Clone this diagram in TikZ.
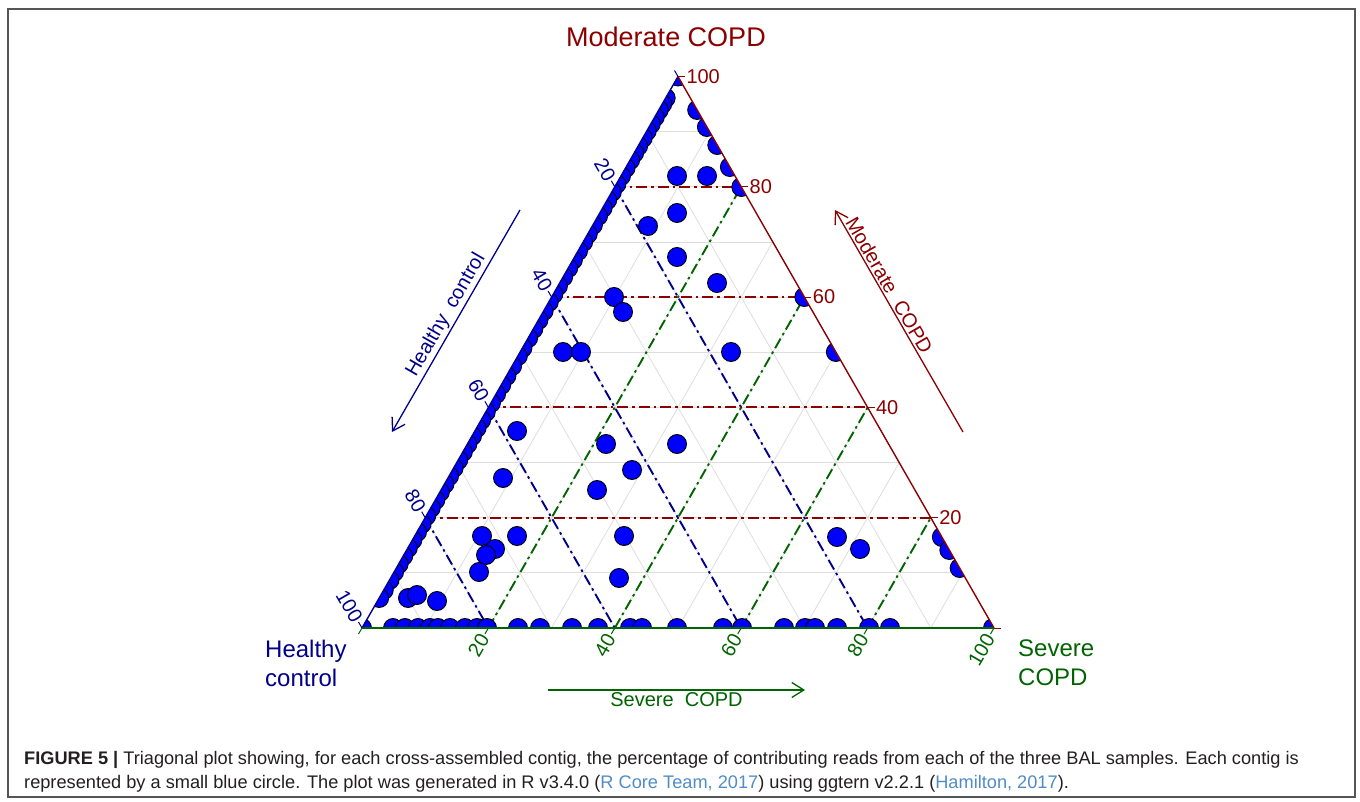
\documentclass[tikz,border=0pt]{standalone}
\usepackage{fontspec}
\setmainfont{Liberation Sans}
\usetikzlibrary{calc,arrows.meta}
\definecolor{modred}{RGB}{139,0,0}
\definecolor{hblue}{RGB}{0,0,139}
\definecolor{sgreen}{RGB}{0,100,0}
\definecolor{gridgray}{RGB}{222,222,222}
\definecolor{citeblue}{RGB}{80,140,200}
\definecolor{capgray}{RGB}{35,31,32}
\definecolor{framegray}{RGB}{85,85,85}
\begin{document}
\begin{tikzpicture}[x=1pt,y=-1pt,
  gridline/.style={gridgray, line width=0.8pt},
  majorline/.style={line width=1.9pt, dash pattern=on 11pt off 4pt on 2.5pt off 4pt},
  datapt/.style={fill=blue, draw=black, line width=0.9pt},
  ticklab/.style={font=\fontsize{20}{23}\selectfont, inner sep=1pt},
  axlab/.style={font=\fontsize{20}{24}\selectfont, inner sep=2pt},
  cornerlab/.style={font=\fontsize{24}{29}\selectfont, align=left, inner sep=0pt},
  barb/.style={-{Straight Barb[length=12pt,width=15pt]}, line width=1.3pt},
  capstyle/.style={font=\fontsize{18.2}{22}\selectfont, capgray, anchor=base west, inner sep=0pt}
]
\useasboundingbox (0,0) rectangle (1360,802);
\draw[framegray, line width=1.2pt] (8,9) rectangle (1355,797);

\coordinate (L) at (362,628);
\coordinate (T) at (678,76.5);
\coordinate (R) at (994,628);

% light grid
\foreach \i [evaluate=\i as \f using \i/10] in {1,...,9} {
  \draw[gridline] ($(L)!\f!(T)$) -- ($(R)!\f!(T)$);
  \draw[gridline] ($(T)!\f!(L)$) -- ($(R)!\f!(L)$);
  \draw[gridline] ($(L)!\f!(R)$) -- ($(T)!\f!(R)$);
}
% major dash-dot lines
\foreach \f in {0.2,0.4,0.6,0.8} {
  \draw[majorline, modred] ($(L)!\f!(T)$) -- ($(R)!\f!(T)$);
  \draw[majorline, hblue] ($(T)!\f!(L)$) -- ($(R)!\f!(L)$);
  \draw[majorline, sgreen] ($(L)!\f!(R)$) -- ($(T)!\f!(R)$);
}

% data points
\begin{scope}
\clip (L) -- (T) -- (R) -- cycle;
\foreach \y in {76.5,98,104,110,117,124,131,138,146,153,160,168,176,184,192,200,208,216,225,234,242,251,260,268,277,286,294,302,311,320,329,338,348,356,366,376,385,394,403,412,420,428,436,444,452,460,468,476,484,492,500,508,516,524,532,540,548,556,564,572,580,590,598,628}
  \draw[datapt] ({678-(\y-76.5)*0.573},\y) circle[radius=9.5pt];
\foreach \y in {110,127,145,167,187,297,352,537,550,568,628}
  \draw[datapt] ({678+(\y-76.5)*0.573},\y) circle[radius=9.5pt];
\foreach \x in {393,405,418,430,438,450,465,477,487,518,540,572,598,630,642,677,723,742,784,805,815,837,869,890,993}
  \draw[datapt] (\x,628) circle[radius=9.5pt];
\foreach \x/\y in {677/176,707/176,677/213,648/226,677/257,717/283,614/297,623/312,563/352,581/352,731/352,517/431,503/478,606/444,677/444,632/470,597/490,482/536,517/536,495/549,486/555,479/572,624/536,619/578,408/598,417/595,437/601,837/537,860/549}
  \draw[datapt] (\x,\y) circle[radius=9.5pt];
\end{scope}

% triangle edges
\draw[hblue, line width=1.4pt] (L) -- (T);
\draw[modred, line width=1.4pt] (T) -- (R);
\draw[sgreen, line width=1.4pt] (R) -- (L);

% ticks and tick labels
\foreach \f/\v in {0/,0.2/20,0.4/40,0.6/60,0.8/80,1/100} {
  \draw[modred, line width=1pt] ($(R)!\f!(T)$) -- ++(7,0) node[ticklab, modred, anchor=west] {\v};
  \draw[hblue, line width=1pt] ($(T)!\f!(L)$) -- ++(-3.5,-6) node[ticklab, hblue, rotate=-60, anchor=east] {\v};
  \draw[sgreen, line width=1pt] ($(L)!\f!(R)$) -- ++(-3.5,6) node[ticklab, sgreen, rotate=60, anchor=east] {\v};
}

% axis arrows with labels
\coordinate (ha1) at (520,210);
\coordinate (ha2) at (392,432);
\draw[barb, hblue] (ha1) -- (ha2);
\node[axlab, hblue, rotate=60, anchor=south] (hlab) at ($(ha1)!0.5!(ha2)$) {Healthy\ \ control};

\coordinate (ma1) at (963,432);
\coordinate (ma2) at (835,210);
\draw[barb, modred] (ma1) -- (ma2);
\node[axlab, modred, rotate=-60, anchor=south] (mlab) at ($(ma2)!0.36!(ma1)$) {Moderate\ \ COPD};

\coordinate (sa1) at (548,690);
\coordinate (sa2) at (805,690);
\draw[barb, sgreen] (sa1) -- (sa2);
\node[axlab, sgreen, anchor=north] (slab) at ($(sa1)!0.5!(sa2)$) {Severe\ \ COPD};

% vertex titles
\node[font=\fontsize{27}{31}\selectfont, modred] (title) at (666,37) {Moderate COPD};
\node[cornerlab, hblue, anchor=north west] (htitle) at (265,640) {Healthy\\control};
\node[cornerlab, sgreen, anchor=north west] (stitle) at (1018,640) {Severe\\COPD};

% caption
\node[capstyle] (cap1) at (24,764) {\textbf{FIGURE 5 |} Triagonal plot showing, for each cross-assembled contig, the percentage of contributing reads from each of the three BAL samples. Each contig is};
\node[capstyle] (cap2) at (24,788) {represented by a small blue circle. The plot was generated in R v3.4.0 (\textcolor{citeblue}{R Core Team, 2017}) using ggtern v2.2.1 (\textcolor{citeblue}{Hamilton, 2017}).};
\end{tikzpicture}
\end{document}
